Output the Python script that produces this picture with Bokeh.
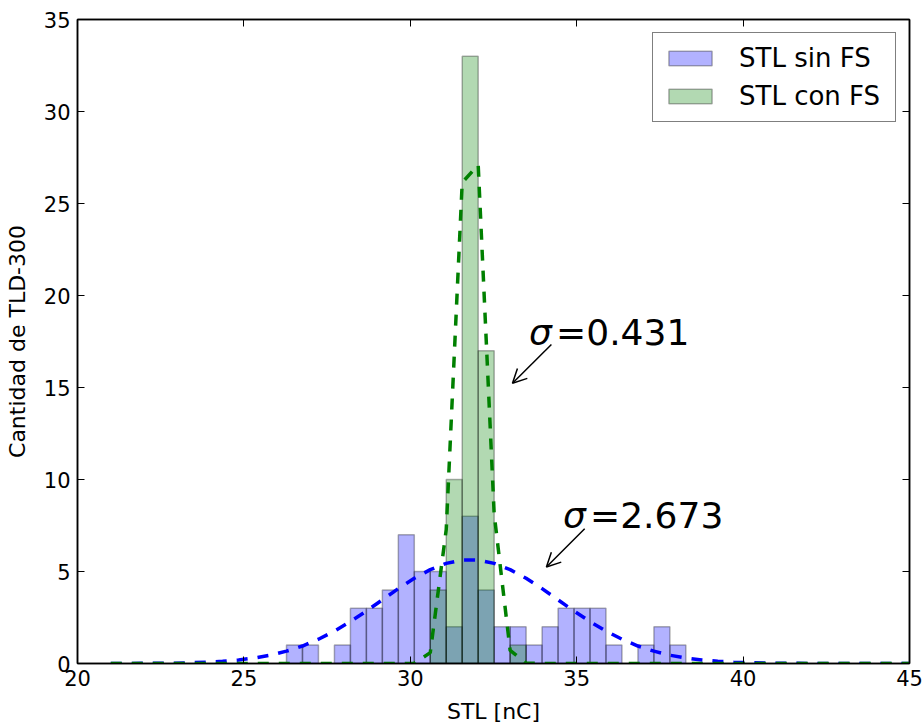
import numpy as np
from bokeh.plotting import figure
from bokeh.models import (FixedTicker, LinearAxis, Arrow, OpenHead, Range1d,
                          ColumnDataSource, CustomLabelingPolicy)
from bokeh.core.properties import value
from bokeh.embed import file_html
from bokeh.resources import INLINE

# Histogram bins: 50 bins of 0.48 nC between 21 and 45 nC
bin_edges = np.linspace(21.0, 45.0, 51)

# TLD counts per bin, without and with the filter (same bins)
stl_sin_fs = [0, 0, 0, 0, 0, 0, 0, 0, 0, 0,
              0, 1, 1, 0, 1, 3, 3, 4, 7, 5,
              5, 2, 8, 4, 2, 2, 1, 2, 3, 3,
              3, 1, 0, 1, 2, 1, 0, 0, 0, 0,
              0, 0, 0, 0, 0, 0, 0, 0, 0, 0]
stl_con_fs = [0, 0, 0, 0, 0, 0, 0, 0, 0, 0,
              0, 0, 0, 0, 0, 0, 0, 0, 0, 0,
              4, 10, 33, 17, 0, 1, 0, 0, 0, 0,
              0, 0, 0, 0, 0, 0, 0, 0, 0, 0,
              0, 0, 0, 0, 0, 0, 0, 0, 0, 0]

# Gaussian fits evaluated at the bin edges
fit_sin_fs = [0.00, 0.00, 0.01, 0.01, 0.02, 0.04, 0.07, 0.12, 0.19, 0.30,
              0.45, 0.67, 0.95, 1.32, 1.76, 2.28, 2.85, 3.46, 4.07, 4.63,
              5.10, 5.44, 5.62, 5.62, 5.44, 5.10, 4.63, 4.07, 3.46, 2.85,
              2.28, 1.76, 1.32, 0.95, 0.67, 0.45, 0.30, 0.19, 0.12, 0.07,
              0.04, 0.02, 0.01, 0.01, 0.00, 0.00, 0.00, 0.00, 0.00, 0.00,
              0.00]
fit_con_fs = [0.00, 0.00, 0.00, 0.00, 0.00, 0.00, 0.00, 0.00, 0.00, 0.00,
              0.00, 0.00, 0.00, 0.00, 0.00, 0.00, 0.00, 0.00, 0.00, 0.01,
              0.59, 7.29, 26.14, 27.10, 8.13, 0.71, 0.02, 0.00, 0.00, 0.00,
              0.00, 0.00, 0.00, 0.00, 0.00, 0.00, 0.00, 0.00, 0.00, 0.00,
              0.00, 0.00, 0.00, 0.00, 0.00, 0.00, 0.00, 0.00, 0.00, 0.00,
              0.00]

sigma_labels = ["0.431", "2.673"]
x_ticks = [20, 25, 30, 35, 40, 45]
y_ticks = [0, 5, 10, 15, 20, 25, 30, 35]

FONT = "DejaVu Sans"

p = figure(width=924, height=726, output_backend="svg", toolbar_location=None,
           x_range=Range1d(20, 45), y_range=Range1d(0, 35),
           min_border_left=77, min_border_right=14,
           min_border_top=19, min_border_bottom=61)
p.xgrid.grid_line_color = None
p.ygrid.grid_line_color = None
p.outline_line_color = "black"
p.outline_line_width = 1.5
p.background_fill_color = "white"
p.border_fill_color = "white"


def histogram(counts, color, label):
    left, right, top = [], [], []
    for i, c in enumerate(counts):
        if c > 0:
            left.append(bin_edges[i])
            right.append(bin_edges[i + 1])
            top.append(c)
    src = ColumnDataSource(dict(left=left, right=right, top=top))
    p.quad(left="left", right="right", top="top", bottom=0, source=src,
           fill_color=color, fill_alpha=0.3, line_color="black",
           line_alpha=0.3, line_width=1.5, legend_label=label)


histogram(stl_sin_fs, "blue", "STL sin FS")
histogram(stl_con_fs, "green", "STL con FS")

p.line(bin_edges, fit_sin_fs, line_color="blue", line_width=3.5,
       line_dash="11 10")
p.line(bin_edges, fit_con_fs, line_color="green", line_width=3.5,
       line_dash="11 10")

# sigma annotations with arrows
ann_x = [33.57, 34.59]
ann_y = [18.0, 8.04]
p.text(x=ann_x, y=ann_y, text=["σ", "σ"], text_font=value(FONT),
       text_font_style="italic", text_font_size="36px",
       text_baseline="alphabetic", text_align="left", text_color="black")
p.text(x=ann_x, y=ann_y, text=["=" + s for s in sigma_labels],
       text_font=value(FONT), text_font_size="36px", x_offset=27,
       text_baseline="alphabetic", text_align="left", text_color="black")

for (xs, ys, xe, ye) in [(34.24, 17.34, 33.07, 15.23),
                         (35.24, 7.32, 34.09, 5.24)]:
    p.add_layout(Arrow(x_start=xs, y_start=ys, x_end=xe, y_end=ye,
                       line_width=1.5, line_color="black",
                       end=OpenHead(size=14, line_width=1.5,
                                    line_color="black")))

# axes
for ax in (p.xaxis[0], p.yaxis[0]):
    ax.major_tick_in = 7
    ax.major_tick_out = 0
    ax.minor_tick_line_color = None
    ax.axis_line_color = "black"
    ax.axis_line_width = 1.5
    ax.major_tick_line_width = 1
    ax.major_label_text_font = FONT
    ax.major_label_text_font_size = "21px"
    ax.major_label_text_color = "black"
    ax.axis_label_text_font = FONT
    ax.axis_label_text_font_size = "22px"
    ax.axis_label_text_font_style = "normal"
    ax.axis_label_text_color = "black"

p.xaxis.ticker = FixedTicker(ticks=x_ticks)
p.yaxis.ticker = FixedTicker(ticks=y_ticks)
p.xaxis.axis_label = "STL [nC]"
p.yaxis.axis_label = "Cantidad de TLD-300"
p.xaxis.major_label_standoff = 6
p.yaxis.major_label_standoff = 7
p.xaxis.axis_label_standoff = 10
p.yaxis.axis_label_standoff = 11

# mirrored ticks on top and right, without labels
no_labels = CustomLabelingPolicy(code="return new Set()")
top_axis = LinearAxis(ticker=FixedTicker(ticks=x_ticks))
right_axis = LinearAxis(ticker=FixedTicker(ticks=y_ticks))
for ax in (top_axis, right_axis):
    ax.major_tick_in = 7
    ax.major_tick_out = 0
    ax.minor_tick_line_color = None
    ax.axis_line_color = "black"
    ax.axis_line_width = 1.5
    ax.major_label_policy = no_labels
    ax.major_label_standoff = 0
p.add_layout(top_axis, "above")
p.add_layout(right_axis, "right")

leg = p.legend[0]
leg.location = "top_right"
leg.margin = 13
leg.padding = 10
leg.spacing = 8
leg.glyph_width = 54
leg.glyph_height = 18
leg.label_standoff = 22
leg.label_height = 29
leg.label_width = 146
leg.label_text_font = FONT
leg.label_text_font_size = "26px"
leg.label_text_color = "black"
leg.border_line_color = "black"
leg.border_line_width = 1.2
leg.background_fill_alpha = 1.0

open("out.html", "w").write(file_html(p, INLINE))
